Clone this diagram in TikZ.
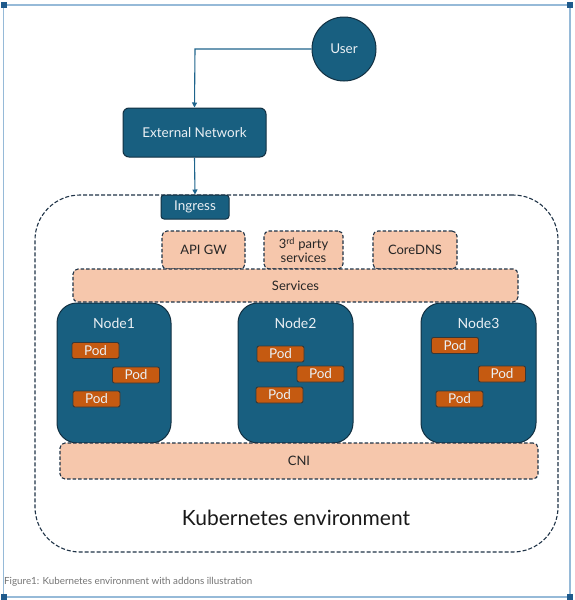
\documentclass[tikz,border=0pt]{standalone}
\usepackage{fontspec}
\setmainfont{Lato}
\usetikzlibrary{arrows.meta}
\definecolor{kblue}{RGB}{24,95,128}
\definecolor{kedge}{RGB}{18,48,66}
\definecolor{kpod}{RGB}{197,90,17}
\definecolor{kpeach}{RGB}{246,199,172}
\definecolor{kdash}{RGB}{30,50,70}
\definecolor{karrow}{RGB}{30,100,140}
\definecolor{kframe}{RGB}{150,186,216}
\definecolor{khandle}{RGB}{30,90,140}
\definecolor{ktext}{RGB}{235,240,244}
\tikzset{
  darkbox/.style={draw=kedge, line width=1pt, fill=kblue, text=ktext, inner sep=0pt},
  podbox/.style={draw=kedge!80!kpod, line width=0.9pt, fill=kpod, text=ktext, rounded corners=2pt,
    minimum width=47pt, minimum height=16pt, inner sep=0pt, font=\fontsize{13.5}{13.5}\selectfont},
  peachbox/.style={draw=kdash, line width=1.1pt, dash pattern=on 3.5pt off 2pt, fill=kpeach,
    rounded corners=5pt, inner sep=0pt, text=black!85, font=\fontsize{13}{14}\selectfont, align=center},
  kubenode/.style={darkbox, rounded corners=20pt, minimum width=115pt, minimum height=140pt},
  nodelbl/.style={text=ktext, font=\fontsize{14}{14}\selectfont},
  handle/.style={fill=khandle, draw=none, minimum size=6pt, inner sep=0pt},
  conn/.style={draw=karrow, line width=1.1pt, -{Triangle[width=5pt,length=5pt]}},
}
\begin{document}
\begin{tikzpicture}[x=1pt,y=-1pt]
\useasboundingbox (0,0) rectangle (574,600);
% outer frame
\draw[kframe, line width=1.8pt] (3.5,5) rectangle (570,597);
\node[handle] (h1) at (4,5) {};
\node[handle] (h2) at (570,5) {};
\node[handle] (h3) at (4,597) {};
\node[handle] (h4) at (570,597) {};
% kubernetes environment
\node[draw=kdash, line width=1.1pt, dash pattern=on 4pt off 2pt, rounded corners=45pt,
  minimum width=523pt, minimum height=357pt] (env) at (296.5,373.5) {};
\node[font=\fontsize{21}{22}\selectfont, text=black!90] (envlbl) at (296,518) {Kubernetes environment};
% top
\node[darkbox, circle, minimum size=64pt, font=\fontsize{13.5}{13.5}\selectfont] (user) at (344,49) {User};
\node[darkbox, rounded corners=6pt, minimum width=143pt, minimum height=49pt,
  font=\fontsize{13.5}{13.5}\selectfont] (extnet) at (194.5,132.5) {External Network};
\node[darkbox, rounded corners=3pt, minimum width=68pt, minimum height=24pt,
  font=\fontsize{13.5}{13.5}\selectfont] (ingress) at (195,207) {Ingress};
\coordinate (bend) at (195,49);
\draw[conn] (user.west) -- (bend) -- (extnet.north);
\draw[conn] (extnet.south) -- (ingress.north);
% addons
\node[peachbox, minimum width=83pt, minimum height=38pt] (apigw) at (203.5,250) {API GW};
\node[peachbox, minimum width=79pt, minimum height=38pt] (third) at (303.5,250) {3\textsuperscript{rd} party\\services};
\node[peachbox, minimum width=84pt, minimum height=38pt] (coredns) at (415,250) {CoreDNS};
\node[peachbox, minimum width=445pt, minimum height=33pt] (services) at (295.5,285.5) {Services};
% nodes
\node[kubenode, minimum width=114pt] (node1) at (114,373) {};
\node[kubenode] (node2) at (295.5,373) {};
\node[kubenode] (node3) at (478.5,373) {};
\node[nodelbl] (n1lbl) at (114,323) {Node1};
\node[nodelbl] (n2lbl) at (295.5,323) {Node2};
\node[nodelbl] (n3lbl) at (478.5,323) {Node3};
\node[podbox] (p11) at (95.5,350.5) {Pod};
\node[podbox] (p12) at (136,375) {Pod};
\node[podbox] (p13) at (96.5,399) {Pod};
\node[podbox] (p21) at (280.5,354) {Pod};
\node[podbox] (p22) at (320.5,374) {Pod};
\node[podbox] (p23) at (279.5,395) {Pod};
\node[podbox] (p31) at (455,345.5) {Pod};
\node[podbox] (p32) at (502,374) {Pod};
\node[podbox] (p33) at (459.5,399) {Pod};
% CNI
\node[peachbox, minimum width=478pt, minimum height=36pt] (cni) at (299,461) {CNI};
% caption
\node[anchor=west, inner sep=0pt, text=black!55, font=\fontsize{9.8}{10}\selectfont] (caption) at (4,582)
  {Figure1: Kubernetes environment with addons illustration};
\end{tikzpicture}
\end{document}
